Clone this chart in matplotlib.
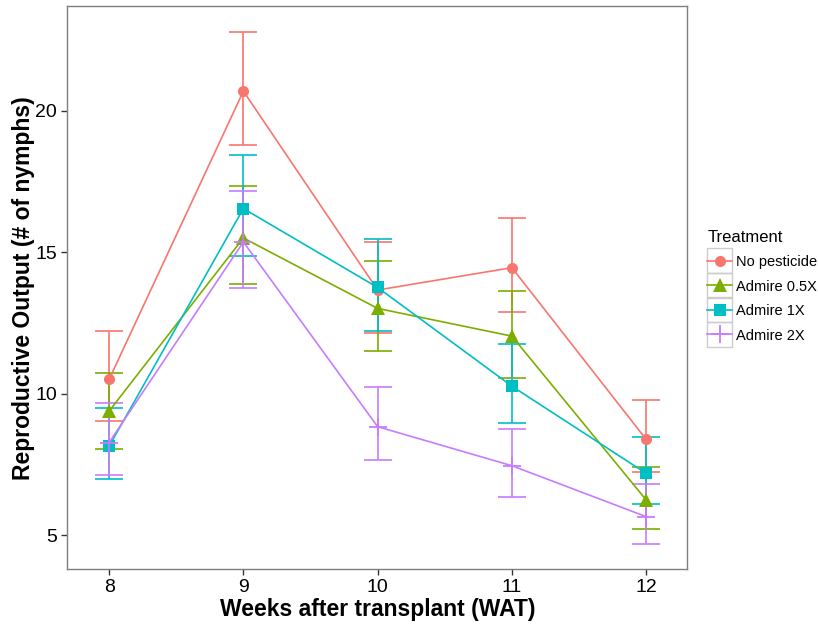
import numpy as np
import matplotlib.pyplot as plt
from matplotlib.patches import Rectangle

plt.rcParams['font.family'] = ['Liberation Sans', 'DejaVu Sans']

weeks = [8, 9, 10, 11, 12]
treatments = ["No pesticide", "Admire 0.5X", "Admire 1X", "Admire 2X"]

# mean and error-bar limits
no_pest = [10.50, 20.69, 13.66, 14.45, 8.38]
no_pest_lo = [9.04, 18.78, 12.13, 12.87, 7.23]
no_pest_hi = [12.21, 22.78, 15.36, 16.21, 9.77]

adm05 = [9.38, 15.50, 13.01, 12.03, 6.24]
adm05_lo = [8.05, 13.86, 11.51, 10.56, 5.20]
adm05_hi = [10.74, 17.32, 14.68, 13.62, 7.39]

adm1 = [8.14, 16.54, 13.75, 10.26, 7.18]
adm1_lo = [6.98, 14.86, 12.22, 8.95, 6.11]
adm1_hi = [9.50, 18.43, 15.46, 11.75, 8.47]

adm2 = [8.27, 15.36, 8.83, 7.45, 5.65]
adm2_lo = [7.14, 13.74, 7.65, 6.35, 4.69]
adm2_hi = [9.65, 17.16, 10.24, 8.75, 6.79]

means = [no_pest, adm05, adm1, adm2]
lows = [no_pest_lo, adm05_lo, adm1_lo, adm2_lo]
highs = [no_pest_hi, adm05_hi, adm1_hi, adm2_hi]
colors = ["#F8766D", "#7CAE00", "#00BFC4", "#C77CFF"]
markers = ["o", "^", "s", "+"]
msizes = [8, 10, 8, 13]

fig = plt.figure(figsize=(8.18, 6.25), dpi=100)
ax = fig.add_axes([0.0825, 0.0896, 0.7575, 0.9004])

for m, lo, hi, c in zip(means, lows, highs, colors):
    m = np.array(m); lo = np.array(lo); hi = np.array(hi)
    ax.errorbar(weeks, m, yerr=[m - lo, hi - m], fmt="none", ecolor=c,
                elinewidth=1.2, capsize=10, capthick=1.2, zorder=2)

handles = []
for m, c, mk, ms, name in zip(means, colors, markers, msizes, treatments):
    h, = ax.plot(weeks, m, color=c, lw=1.2, marker=mk, markersize=ms,
                 markeredgewidth=1.3 if mk == "+" else 0, label=name, zorder=3)
    handles.append(h)

ax.set_xlim(7.69, 12.305)
ax.set_ylim(3.80, 23.69)
ax.set_xticks(weeks)
ax.set_yticks([5, 10, 15, 20])
ax.tick_params(labelsize=14, length=4, width=1, color="#333333", labelcolor="black")
for s in ax.spines.values():
    s.set_color("#7f7f7f")
    s.set_linewidth(1)
ax.set_xlabel("Weeks after transplant (WAT)", fontsize=16.5, fontweight="bold", labelpad=1)
ax.set_ylabel("Reproductive Output (# of nymphs)", fontsize=16.5, fontweight="bold", labelpad=0)

leg = fig.legend(handles=handles, labels=treatments, loc="upper left",
                 bbox_to_anchor=(0.8575, 0.642), frameon=False, title="Treatment",
                 fontsize=10.5, title_fontsize=12, handlelength=1.7,
                 handletextpad=0.3, labelspacing=0.72, borderaxespad=0,
                 alignment="left")

# grey boxes around legend keys, like ggplot
fig.canvas.draw()
for h in leg.legend_handles:
    bb = h.get_window_extent(fig.canvas.get_renderer())
    cx = (bb.x0 + bb.x1) / 2
    cy = (bb.y0 + bb.y1) / 2
    w = 25
    x0, y0 = fig.transFigure.inverted().transform((cx - w / 2, cy - w / 2))
    x1, y1 = fig.transFigure.inverted().transform((cx + w / 2, cy + w / 2))
    fig.patches.append(Rectangle((x0, y0), x1 - x0, y1 - y0, transform=fig.transFigure,
                                 fill=False, edgecolor="#cccccc", lw=1, zorder=0))

fig.savefig("out.png", dpi=100)
